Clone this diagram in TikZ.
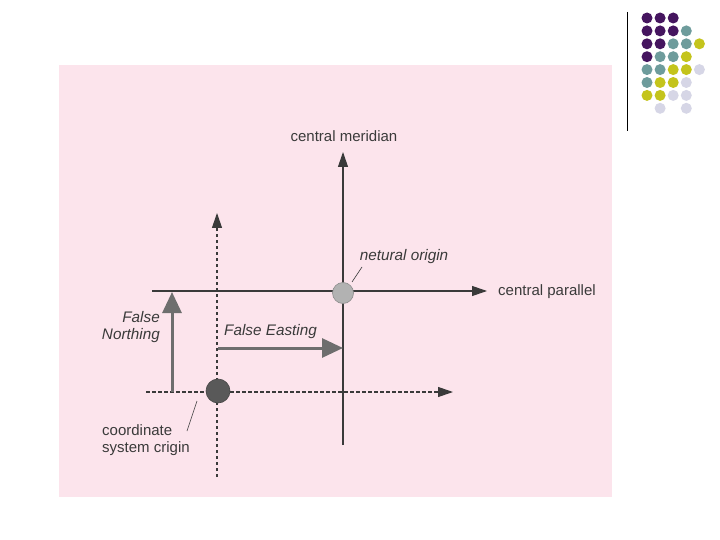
\documentclass[tikz,border=0pt]{standalone}
\usepackage{fontspec}
\setmainfont{Liberation Sans}
\usetikzlibrary{arrows.meta}
\definecolor{bgpink}{HTML}{FCE4EC}
\definecolor{ink}{HTML}{3A3A3A}
\definecolor{thick}{HTML}{6E6E6E}
\definecolor{dpurple}{HTML}{45155F}
\definecolor{dteal}{HTML}{6E9C9C}
\definecolor{dyellow}{HTML}{C4C41C}
\definecolor{dlav}{HTML}{D6D6E6}
\tikzset{
  lbl/.style={font=\fontsize{15}{18}\selectfont, text=ink, inner sep=0pt},
  ilbl/.style={lbl, font=\fontsize{15.3}{18}\selectfont\itshape},
  axis/.style={draw=ink, line width=1.1pt, -{Triangle[length=15pt,width=10pt]}},
  daxis/.style={axis, dash pattern=on 3.5pt off 2.5pt},
  fat/.style={draw=thick, line width=3pt, -{Triangle[length=21pt,width=19pt]}},
  leader/.style={draw=ink, line width=0.6pt},
  dot/.style={circle, inner sep=0pt, minimum size=11pt},
}
\begin{document}
\begin{tikzpicture}[x=1pt,y=-1pt]
\useasboundingbox (0,0) rectangle (720,540);
\fill[white] (0,0) rectangle (720,540);
\fill[bgpink] (59,65) rectangle (612,497);
% decoration
\draw[black, line width=1pt] (627,12) -- (627,131);
\foreach \c/\x/\y in {
 dpurple/0/0, dpurple/1/0, dpurple/2/0,
 dpurple/0/1, dpurple/1/1, dpurple/2/1, dteal/3/1,
 dpurple/0/2, dpurple/1/2, dteal/2/2, dteal/3/2, dyellow/4/2,
 dpurple/0/3, dteal/1/3, dteal/2/3, dyellow/3/3,
 dteal/0/4, dteal/1/4, dyellow/2/4, dyellow/3/4, dlav/4/4,
 dteal/0/5, dyellow/1/5, dyellow/2/5, dlav/3/5,
 dyellow/0/6, dyellow/1/6, dlav/2/6, dlav/3/6,
 dlav/1/7, dlav/3/7}
  \node[dot, fill=\c] (d\x\y) at ({647+13.1*\x},{18+12.9*\y}) {};
% coordinates
\coordinate (cmTop) at (343,152);
\coordinate (cmBot) at (343,445);
\coordinate (cpL) at (152,291);
\coordinate (cpR) at (487,291);
\coordinate (dvTop) at (217,213);
\coordinate (dvBot) at (217,477);
\coordinate (dhL) at (146,392);
\coordinate (dhR) at (453,392);
\coordinate (fnS) at (172,392);
\coordinate (fnE) at (172,292);
\coordinate (feS) at (218,348);
\coordinate (feE) at (343,348);
% axes
\draw[axis] (cmBot) -- (cmTop);
\draw[axis] (cpL) -- (cpR);
\draw[daxis] (dvBot) -- (dvTop);
\draw[daxis] (dhL) -- (dhR);
% origins
\node[circle, fill=black!30, draw=black!45, line width=0.6pt, minimum size=21pt, inner sep=0pt] (natorig) at (343,293) {};
\node[circle, fill=black!65, draw=black!72, line width=0.6pt, minimum size=24pt, inner sep=0pt] (csorig) at (218,391) {};
% labels
\node[lbl] (lcm) at (344,136) {central meridian};
\node[lbl, anchor=west] (lcp) at (498,292) {central parallel};
\node[ilbl] (lno) at (404,257) {netural origin};
\node[ilbl, anchor=west] (lfe) at (224,332) {False Easting};
\node[ilbl, align=right, anchor=east] (lfn) at (160,327) {False\\[-1pt]Northing};
\node[lbl, align=left, anchor=west] (lcso) at (102,440) {coordinate\\[-1pt]system crigin};
% leaders
\coordinate (noA) at (352,282);
\coordinate (noB) at (362,267);
\coordinate (csA) at (197,401);
\coordinate (csB) at (187,431);
\draw[leader] (noA) -- (noB);
\draw[leader] (csA) -- (csB);
% false offsets
\draw[fat] (fnS) -- (fnE);
\draw[fat] (feS) -- (feE);
\end{tikzpicture}
\end{document}
